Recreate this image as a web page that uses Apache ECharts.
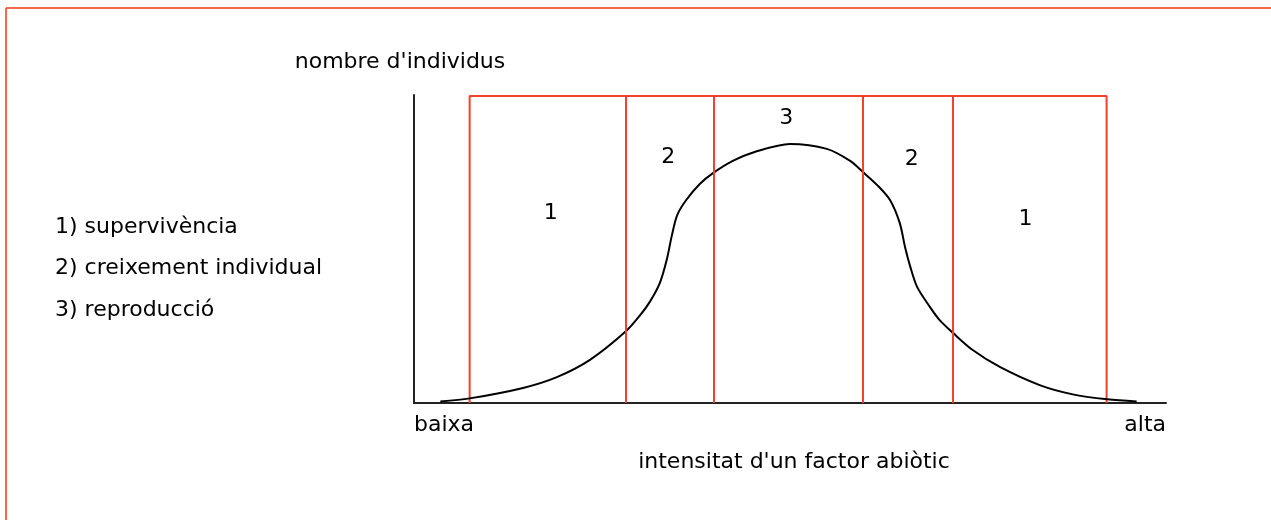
<!DOCTYPE html>
<html>
<head>
<meta charset="utf-8">
<script src="https://cdn.jsdelivr.net/npm/echarts@6/dist/echarts.min.js"></script>
<style>
  html, body { margin: 0; padding: 0; background: #fff; }
  #chart { width: 1271px; height: 520px; }
</style>
</head>
<body>
<div id="chart"></div>
<script>
// corba (intensitat 0-100, individus 0-100)
const curveX = [3.5, 7.4, 14.5, 19.0, 23.4, 28.1, 30.1, 31.4, 32.7, 33.6, 34.3, 35.0, 36.2, 38.0, 39.8, 42.4, 45.3, 50.0, 54.9, 58.0, 59.7, 61.7, 63.3, 64.6, 65.3, 66.0, 66.9, 68.6, 69.9, 71.7, 74.3, 77.9, 83.2, 87.6, 92.2, 96.1];
const curveY = [0.5, 1.5, 4.9, 8.4, 14.0, 23.1, 28.6, 33.0, 39.0, 46.4, 54.5, 61.0, 65.9, 71.1, 74.7, 78.6, 81.5, 84.1, 82.5, 78.6, 75.0, 70.5, 65.9, 58.4, 50.6, 44.2, 37.7, 31.2, 26.9, 22.7, 17.2, 11.7, 5.8, 2.8, 1.2, 0.5];

// límits de les zones (línies vermelles)
const boundaryX = [7.4, 28.1, 39.8, 59.7, 71.7, 92.1];
const boxTop = 99.7;

// números de zona
const zoneNumbers = ['1', '2', '3', '2', '1'];
const zoneX = [18.2, 33.8, 49.5, 66.2, 81.3];
const zoneY = [61.7, 79.9, 92.5, 79.2, 59.7];

const xTickLabels = ['baixa', 'alta'];
const xAxisName = "intensitat d'un factor abiòtic";
const yAxisName = "nombre d'individus";
const legendLines = ['1) supervivència', '2) creixement individual', '3) reproducció'];

const FONT = 'DejaVu Sans';
const FS = 22;
const RED = '#f5402c';

let myChart = echarts.init(document.getElementById('chart'));

// contorn: esquerra, dalt, dreta
let frame = [
  [boundaryX[0], 0],
  [boundaryX[0], boxTop],
  [boundaryX[boundaryX.length - 1], boxTop],
  [boundaryX[boundaryX.length - 1], 0]
];
let inner = boundaryX.slice(1, -1).map(x => [{ coord: [x, 0] }, { coord: [x, boxTop] }]);

let option = {
  animation: false,
  backgroundColor: '#fff',
  grid: {
    left: 414,
    right: 105,
    top: 95,
    bottom: 117,
    containLabel: false,
    outerBoundsMode: 'none'
  },
  xAxis: {
    type: 'value',
    min: 0,
    max: 100,
    name: xAxisName,
    nameLocation: 'middle',
    nameGap: 48,
    nameTextStyle: { fontFamily: FONT, fontSize: FS, color: '#000', padding: [0, 0, 0, 8] },
    axisLine: { lineStyle: { color: '#222', width: 2 } },
    axisTick: { show: false },
    splitLine: { show: false },
    axisLabel: {
      customValues: [0, 100],
      formatter: v => (v === 0 ? xTickLabels[0] : xTickLabels[1]),
      alignMinLabel: 'left',
      alignMaxLabel: 'right',
      margin: 11,
      fontFamily: FONT,
      fontSize: FS,
      color: '#000'
    }
  },
  yAxis: {
    type: 'value',
    min: 0,
    max: 100,
    name: yAxisName,
    nameLocation: 'end',
    nameGap: 22,
    nameTextStyle: { fontFamily: FONT, fontSize: FS, color: '#000', align: 'center', padding: [0, 28, 0, 0] },
    axisLine: { show: true, lineStyle: { color: '#222', width: 2 } },
    axisTick: { show: false },
    axisLabel: { show: false },
    splitLine: { show: false }
  },
  graphic: [
    { type: 'line', shape: { x1: 6, y1: 8, x2: 1271, y2: 8 }, style: { stroke: '#f8684f', lineWidth: 2 } },
    { type: 'line', shape: { x1: 6, y1: 8, x2: 6, y2: 520 }, style: { stroke: '#f8684f', lineWidth: 2 } },
    {
      type: 'group',
      left: 55,
      top: 216,
      children: legendLines.map((t, i) => ({
        type: 'text',
        x: 0,
        y: i * 41.5,
        style: { text: t, fontFamily: FONT, fontSize: FS, fill: '#000' }
      }))
    }
  ],
  series: [
    {
      name: 'marc',
      type: 'line',
      data: frame,
      symbol: 'none',
      lineStyle: { color: RED, width: 2 },
      z: 1,
      markLine: {
        silent: true,
        symbol: 'none',
        label: { show: false },
        lineStyle: { color: RED, width: 2, type: 'solid' },
        data: inner
      }
    },
    {
      name: 'corba',
      type: 'line',
      data: curveX.map((x, i) => [x, curveY[i]]),
      smooth: 0.3,
      symbol: 'none',
      lineStyle: { color: '#000', width: 2 },
      z: 3
    },
    {
      name: 'zones',
      type: 'scatter',
      data: zoneX.map((x, i) => [x, zoneY[i], zoneNumbers[i]]),
      symbolSize: 1,
      itemStyle: { opacity: 0 },
      label: {
        show: true,
        position: 'inside',
        formatter: p => p.data[2],
        fontFamily: FONT,
        fontSize: FS,
        color: '#000',
        opacity: 1
      }
    }
  ]
};

myChart.setOption(option);
</script>
</body>
</html>
